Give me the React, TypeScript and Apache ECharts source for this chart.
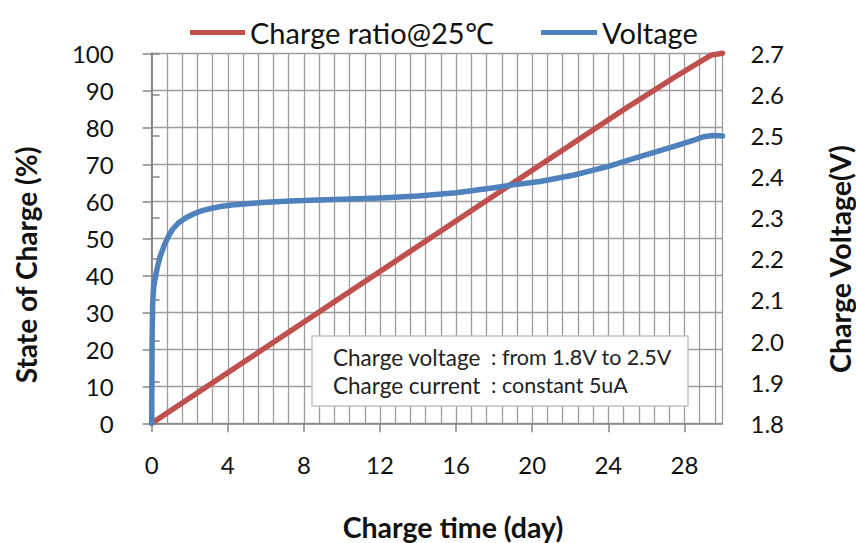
import React, { useEffect, useRef } from "react";
import * as echarts from "echarts";

// ---- data ----
const xTickLabels = [0, 4, 8, 12, 16, 20, 24, 28];
const socDays = [0, 5, 10, 15, 20, 25, 27.5, 29.4, 30];
const socValues = [0, 17.1, 34.2, 51.3, 68.4, 85.4, 93.6, 99.5, 100];
const voltDays = [0, 0.02, 0.05, 0.1, 0.17, 0.3, 0.44, 0.65, 0.87, 1.1, 1.4, 1.8, 2.28, 2.7, 3.16, 3.7, 4.21, 5, 5.79, 7, 8, 10, 12, 14, 16, 18, 19, 20.4, 22.2, 24, 25.7, 27.5, 28.5, 29.0, 29.5, 30];
const voltValues = [1.8, 2.0, 2.09, 2.13, 2.15, 2.18, 2.205, 2.232, 2.254, 2.272, 2.287, 2.3, 2.311, 2.318, 2.323, 2.328, 2.331, 2.334, 2.337, 2.34, 2.342, 2.345, 2.348, 2.353, 2.361, 2.373, 2.38, 2.388, 2.404, 2.425, 2.449, 2.474, 2.489, 2.497, 2.5, 2.499];
const seriesNames = ["Charge ratio@25℃", "Voltage"];
const noteLabels = ["Charge voltage", "Charge current"];
const noteValues = [": from 1.8V to 2.5V", ": constant 5uA"];
const axisTitles = ["State of Charge (%)", "Charge Voltage(V)", "Charge time (day)"];

const FONT = "Lato, 'Open Sans', sans-serif";
const GRID_COLOR = "#9c9c9c";
const AXIS_COLOR = "#868686";
const RED = "#C0504D";
const BLUE = "#4F81BD";

export default function App() {
  const ref = useRef<HTMLDivElement>(null);
  useEffect(() => {
    if (!ref.current) return;
    const chart = echarts.init(ref.current, null, { renderer: "svg" });
    const socData = socDays.map((d, i) => [d, socValues[i]]);
    const voltData = voltDays.map((d, i) => [d, voltValues[i]]);
    const option: any = {
      animation: false,
      backgroundColor: "#ffffff",
      textStyle: { fontFamily: FONT },
      grid: { left: 151.7, right: 133.5, top: 53.3, bottom: 119.7, containLabel: false },
      legend: [
        {
          data: [seriesNames[0]],
          left: 190,
          top: 18,
          padding: 0,
          icon: "rect",
          itemWidth: 55,
          itemHeight: 5,
          itemGap: 0,
          textStyle: { fontFamily: FONT, fontSize: 29, color: "#111" },
        },
        {
          data: [seriesNames[1]],
          left: 541,
          top: 18,
          padding: 0,
          icon: "rect",
          itemWidth: 56,
          itemHeight: 5,
          itemGap: 0,
          textStyle: { fontFamily: FONT, fontSize: 29, color: "#111" },
        },
      ],
      xAxis: [
        {
          type: "value",
          min: 0,
          max: 30,
          interval: 4,
          position: "bottom",
          axisLine: { show: true, onZero: false, lineStyle: { color: AXIS_COLOR, width: 1.5 } },
          axisTick: { show: true, length: 9, lineStyle: { color: AXIS_COLOR, width: 1.5 } },
          axisLabel: {
            show: true,
            margin: 29,
            fontSize: 24,
            color: "#111",
            fontFamily: FONT,
            showMaxLabel: false,
            formatter: (v: number) => (xTickLabels.includes(v) ? String(v) : ""),
          },
          splitLine: { show: false },
        },
        {
          type: "value",
          min: 0,
          max: 30,
          interval: 0.8,
          position: "bottom",
          axisLine: { show: false },
          axisTick: { show: false },
          axisLabel: { show: false },
          splitLine: { show: true, lineStyle: { color: GRID_COLOR, width: 1.3 } },
        },
      ],
      yAxis: [
        {
          type: "value",
          min: 0,
          max: 100,
          interval: 10,
          position: "left",
          axisLine: { show: true, lineStyle: { color: AXIS_COLOR, width: 1.5 } },
          axisTick: { show: true, length: 9, lineStyle: { color: AXIS_COLOR, width: 1.5 } },
          axisLabel: { margin: 38, fontSize: 24, color: "#111", fontFamily: FONT },
          splitLine: { show: true, lineStyle: { color: GRID_COLOR, width: 1.3 } },
        },
        {
          type: "value",
          min: 1.8,
          max: 2.7,
          interval: 0.1,
          position: "right",
          axisLine: { show: true, lineStyle: { color: AXIS_COLOR, width: 1.5 } },
          axisTick: { show: true, length: 8, lineStyle: { color: AXIS_COLOR, width: 1.5 } },
          axisLabel: {
            margin: 28,
            fontSize: 24,
            color: "#111",
            fontFamily: FONT,
            formatter: (v: number) => v.toFixed(1),
          },
          splitLine: { show: false },
        },
      ],
      series: [
        {
          name: seriesNames[0],
          type: "line",
          xAxisIndex: 0,
          yAxisIndex: 0,
          data: socData,
          showSymbol: false,
          clip: false,
          color: RED,
          lineStyle: { color: RED, width: 5.5, cap: "round", join: "round" },
          z: 3,
        },
        {
          name: seriesNames[1],
          type: "line",
          xAxisIndex: 0,
          yAxisIndex: 1,
          data: voltData,
          showSymbol: false,
          clip: false,
          smooth: false,
          color: BLUE,
          lineStyle: { color: BLUE, width: 5.5, cap: "round", join: "round" },
          z: 4,
        },
      ],
      graphic: [
        {
          type: "text",
          x: 26,
          y: 265,
          rotation: Math.PI / 2,
          style: {
            text: axisTitles[0],
            fontFamily: FONT,
            fontSize: 28,
            fontWeight: "bold",
            fill: "#111",
            align: "center",
            verticalAlign: "middle",
          },
        },
        {
          type: "text",
          x: 840,
          y: 259,
          rotation: Math.PI / 2,
          style: {
            text: axisTitles[1],
            fontFamily: FONT,
            fontSize: 28.5,
            fontWeight: "bold",
            fill: "#111",
            align: "center",
            verticalAlign: "middle",
          },
        },
        {
          type: "text",
          x: 453,
          y: 527,
          style: {
            text: axisTitles[2],
            fontFamily: FONT,
            fontSize: 28.5,
            fontWeight: "bold",
            fill: "#111",
            align: "center",
            verticalAlign: "middle",
          },
        },
        {
          type: "rect",
          shape: { x: 312, y: 336, width: 376, height: 70 },
          style: { fill: "#ffffff", stroke: "#c4c4c4", lineWidth: 1.5 },
          z: 10,
        },
        ...noteLabels.map((t, i) => ({
          type: "text",
          x: 333,
          y: 357 + i * 28,
          z: 11,
          style: { text: t, fontFamily: FONT, fontSize: 22.5, fill: "#222", align: "left", verticalAlign: "middle" },
        })),
        ...noteValues.map((t, i) => ({
          type: "text",
          x: 491,
          y: 357 + i * 28,
          z: 11,
          style: { text: t, fontFamily: FONT, fontSize: 21.5, fill: "#222", align: "left", verticalAlign: "middle" },
        })),
      ],
    };
    chart.setOption(option);
    return () => chart.dispose();
  }, []);
  return (
    <div
      ref={ref}
      style={{ position: "absolute", left: 0, top: 0, width: 856, height: 543, background: "#fff" }}
    />
  );
}
